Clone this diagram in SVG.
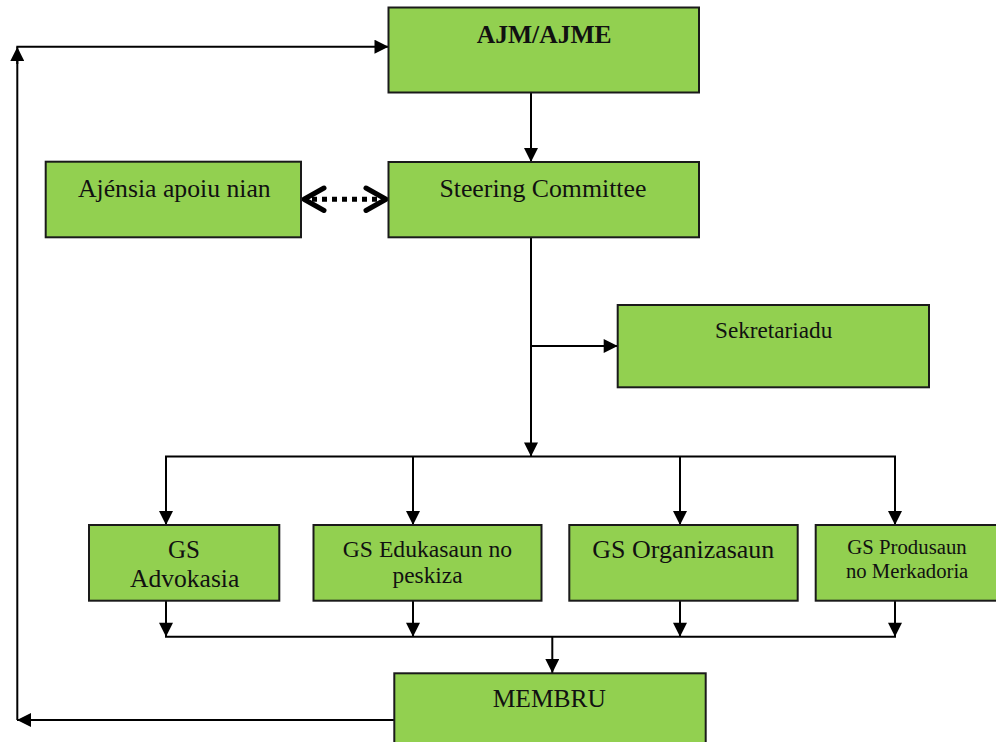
<svg xmlns="http://www.w3.org/2000/svg" width="996" height="742" viewBox="0 0 996 742">
<style>
.box{fill:#92D050;stroke:#1a1a1a;stroke-width:2}
.t{font-family:"Liberation Serif","Times New Roman",serif;fill:#111}
.ln{fill:none;stroke:#000;stroke-width:2}
.ar{marker-end:url(#ah)}
.dash{fill:none;stroke:#000;stroke-width:5;stroke-dasharray:5 5}
.chev{fill:none;stroke:#000;stroke-width:5;stroke-linecap:round;stroke-linejoin:round}
</style>
<defs>
<marker id="ah" viewBox="0 0 14 14" markerUnits="userSpaceOnUse" markerWidth="15" markerHeight="14" refX="14" refY="7" orient="auto">
<path d="M0,0 L14,7 L0,14 z" fill="#000"/>
</marker>
</defs>
<rect width="996" height="742" fill="#fff"/>
<g id="connectors">
<path class="ln ar" d="M531,92.5 V162"/>
<path class="ln ar" d="M531,237 V456.5"/>
<path class="ln ar" d="M531,346 H617.7"/>
<path class="ln" d="M165,456.5 H896"/>
<path class="ln ar" d="M166,456.5 V525"/>
<path class="ln ar" d="M413,456.5 V525"/>
<path class="ln ar" d="M680,456.5 V525"/>
<path class="ln ar" d="M895,456.5 V525"/>
<path class="ln ar" d="M166,600.7 V636.7"/>
<path class="ln ar" d="M413,600.7 V636.7"/>
<path class="ln ar" d="M680,600.7 V636.7"/>
<path class="ln ar" d="M895,600.7 V636.7"/>
<path class="ln" d="M165,636.7 H896"/>
<path class="ln ar" d="M552.3,636.7 V673"/>
<path class="ln ar" d="M394.3,720 H17"/>
<path class="ln" d="M17.3,720 V60"/>
<path class="ln ar" d="M17.3,64 V47"/>
<path class="ln ar" d="M16.3,46.7 H388.5"/>
<path class="dash" d="M312,199.3 H378"/>
<polyline class="chev" points="324,188 304,199.3 324,210.5"/>
<polyline class="chev" points="366,188 386,199.3 366,210.5"/>
</g>
<g id="ajm">
<rect class="box" x="388.5" y="7.5" width="310.5" height="85"/>
<text class="t" x="476.7" y="42.7" font-size="25.5" font-weight="bold" textLength="135" lengthAdjust="spacingAndGlyphs">AJM/AJME</text>
</g>
<g id="steering">
<rect class="box" x="388.5" y="162" width="310.5" height="75.3"/>
<text class="t" x="439.4" y="196.7" font-size="25.5" textLength="207" lengthAdjust="spacingAndGlyphs">Steering Committee</text>
</g>
<g id="ajensia">
<rect class="box" x="45.7" y="161.7" width="255.3" height="75.6"/>
<text class="t" x="78" y="196.7" font-size="25.5" textLength="192.7" lengthAdjust="spacingAndGlyphs">Ajénsia apoiu nian</text>
</g>
<g id="sekretariadu">
<rect class="box" x="617.7" y="305" width="311.3" height="82.3"/>
<text class="t" x="715" y="338.3" font-size="23" textLength="117.3" lengthAdjust="spacingAndGlyphs">Sekretariadu</text>
</g>
<g id="gs-advokasia">
<rect class="box" x="89" y="525" width="190.3" height="75.7"/>
<text class="t" x="168" y="558.3" font-size="25.5" textLength="32" lengthAdjust="spacingAndGlyphs">GS</text>
<text class="t" x="130" y="587.3" font-size="25.5" textLength="109.3" lengthAdjust="spacingAndGlyphs">Advokasia</text>
</g>
<g id="gs-edukasaun">
<rect class="box" x="313.5" y="525" width="228" height="75.7"/>
<text class="t" x="342.8" y="556.7" font-size="23.5" textLength="169.4" lengthAdjust="spacingAndGlyphs">GS Edukasaun no</text>
<text class="t" x="392.5" y="583.3" font-size="23.5" textLength="70.1" lengthAdjust="spacingAndGlyphs">peskiza</text>
</g>
<g id="gs-organizasaun">
<rect class="box" x="569.3" y="525" width="228.4" height="75.7"/>
<text class="t" x="592.3" y="558.3" font-size="25.5" textLength="182" lengthAdjust="spacingAndGlyphs">GS Organizasaun</text>
</g>
<g id="gs-produsaun">
<rect class="box" x="815.7" y="525" width="182" height="75.7"/>
<text class="t" x="847.3" y="554" font-size="20.5" textLength="119.4" lengthAdjust="spacingAndGlyphs">GS Produsaun</text>
<text class="t" x="846" y="578.3" font-size="20.5" textLength="122.3" lengthAdjust="spacingAndGlyphs">no Merkadoria</text>
</g>
<g id="membru">
<rect class="box" x="394.3" y="673.3" width="311.4" height="75"/>
<text class="t" x="492.7" y="707.3" font-size="25" textLength="113.3" lengthAdjust="spacingAndGlyphs">MEMBRU</text>
</g>
</svg>
